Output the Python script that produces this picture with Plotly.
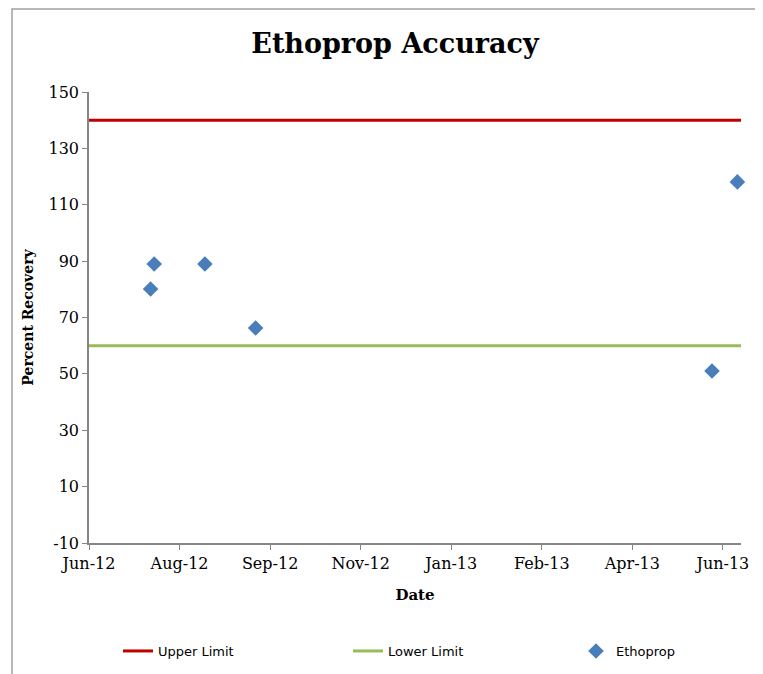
import plotly.graph_objects as go

# --- Daten ---
sample_dates = ["2012-07-24", "2012-07-26", "2012-08-23", "2012-09-20", "2013-05-30", "2013-06-13"]
recovery = [80.1, 89.0, 89.0, 66.3, 51.0, 118.1]

limit_dates = ["2012-06-20", "2013-06-15"]
upper_limit = [140, 140]
lower_limit = [60, 60]

x_range = ["2012-06-20", "2013-06-15"]
y_ticks = [-10, 10, 30, 50, 70, 90, 110, 130, 150]
y_ticktext = ["-10", "10", "30", "50", "70", "90", "110", "130", "150"]

SERIF = "DejaVu Serif"
SANS = "DejaVu Sans"
GRAY = "#868686"

# Seite hat 8px Rand -> Figur etwas kleiner, alles um 8px verschoben
W, H = 755, 666
L, R, T, B = 81, 22, 84, 131
PW, PH = W - L - R, H - T - B

fig = go.Figure()

fig.add_trace(go.Scatter(
    x=limit_dates, y=upper_limit, mode="lines",
    line=dict(color="#C00000", width=3), name="Upper Limit", legend="legend"
))
fig.add_trace(go.Scatter(
    x=limit_dates, y=lower_limit, mode="lines",
    line=dict(color="#9BBB59", width=3), name="Lower Limit", legend="legend2"
))
fig.add_trace(go.Scatter(
    x=sample_dates, y=recovery, mode="markers",
    marker=dict(symbol="diamond", size=12, color="#4A7EBB"),
    name="Ethoprop", legend="legend3", cliponaxis=False
))

legend_style = dict(
    orientation="h", xref="container", yref="container",
    yanchor="middle", xanchor="left", y=1 - 643 / H,
    font=dict(family=SANS, size=13, color="black"),
    bgcolor="rgba(0,0,0,0)", itemwidth=30,
)

fig.update_layout(
    width=W, height=H,
    margin=dict(l=L, r=R, t=T, b=B),
    paper_bgcolor="white", plot_bgcolor="white",
    title=dict(
        text="<b>Ethoprop Accuracy</b>",
        x=387 / W, xanchor="center", y=1 - 36 / H, yanchor="middle",
        font=dict(family=SERIF, size=27, color="black"),
    ),
    xaxis=dict(
        type="date", range=x_range,
        tick0="2012-06-20", dtick=50 * 86400000, tickformat="%b-%y",
        showgrid=False, zeroline=False,
        showline=True, linecolor=GRAY, linewidth=1.5,
        ticks="outside", ticklen=5, tickcolor=GRAY,
        tickfont=dict(family=SERIF, size=16, color="black"),
        title=dict(text="<b>Date</b>", font=dict(family=SERIF, size=15, color="black"), standoff=18),
    ),
    yaxis=dict(
        range=[-10, 150], tickvals=y_ticks, ticktext=y_ticktext,
        showgrid=False, zeroline=False,
        showline=True, linecolor=GRAY, linewidth=1.5,
        ticks="outside", ticklen=5, tickcolor=GRAY,
        tickfont=dict(family=SERIF, size=16, color="black"),
        title=dict(text="<b>Percent Recovery</b>", font=dict(family=SERIF, size=14, color="black"), standoff=12),
    ),
    legend=dict(legend_style, x=110 / W),
    legend2=dict(legend_style, x=340 / W),
    legend3=dict(legend_style, x=568 / W),
    showlegend=True,
)

# Rahmen um den Diagrammbereich
fig.add_shape(
    type="rect", xref="paper", yref="paper",
    x0=(4 - L) / PW, x1=(W + 10 - L) / PW,
    y0=(PH - (H + 10 - T)) / PH, y1=(PH + T - 1) / PH,
    line=dict(color="#A0A0A0", width=1.5), layer="below",
)

fig.write_html("out.html")
